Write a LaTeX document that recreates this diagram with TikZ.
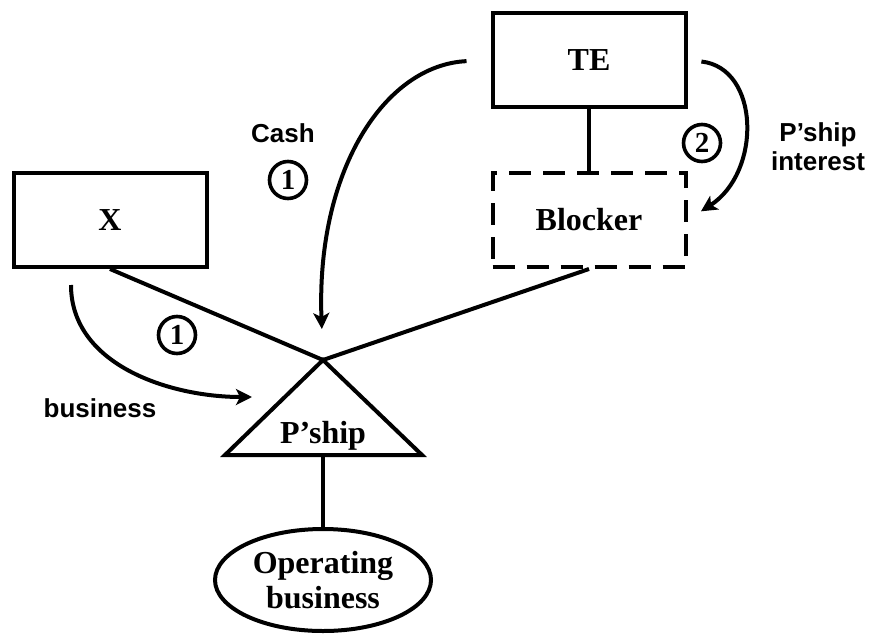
\documentclass[tikz,border=0pt]{standalone}
\usepackage{fontspec}
\setmainfont{Liberation Serif}
\newfontfamily\labelfont{Liberation Sans}
\usetikzlibrary{shapes,arrows.meta,positioning}

\begin{document}
\begin{tikzpicture}[x=0.5pt, y=-0.5pt,
    entity/.style={draw, line width=2pt, minimum width=96.5pt, minimum height=47pt, font=\fontsize{16}{19}\selectfont\bfseries},
    link/.style={line width=2pt},
    flow/.style={line width=2pt, -{Stealth[length=8pt, width=8pt, inset=2pt]}},
    step num/.style={draw, circle, line width=1.8pt, inner sep=0pt, minimum size=18.5pt, font=\fontsize{14.5}{14.5}\selectfont\bfseries},
    note/.style={align=center, font=\labelfont\bfseries\fontsize{13}{14.5}\selectfont}]
    \useasboundingbox (0,0) rectangle (870,636);

    \node[entity] (te) at (589,60) {TE};
    \node[entity, dashed, dash pattern=on 11pt off 6pt] (blocker) at (589,220) {Blocker};
    \node[entity] (x) at (110,220) {X};
    \node[draw, ellipse, line width=2pt, inner sep=0pt, minimum width=108pt, minimum height=51pt, align=center, font=\fontsize{16}{17.5}\selectfont\bfseries] (oper) at (323,580) {Operating\\business};

    % partnership triangle
    \coordinate (apex) at (323,360);
    \coordinate (pbase) at (323,455);
    \draw[link, line join=miter] (apex) -- (422,455) -- (225,455) -- cycle;
    \node[font=\fontsize{16}{19}\selectfont\bfseries] (pship) at (323,436) {P’ship};

    \draw[link] (te) -- (blocker);
    \draw[link] (x.south) -- (apex);
    \draw[link] (blocker.south) -- (apex);
    \draw[link] (pbase) -- (oper);

    % transfers
    \coordinate (bizstart) at (71,285);
    \coordinate (biztip) at (252,397);
    \draw[flow, shorten <=12pt, shorten >=15.5pt] (te.west) .. controls (385,65) and (316,170) .. (apex);
    \draw[flow, shorten <=7pt, shorten >=8pt] (te.east) .. controls (760,68) and (762,172) .. (blocker.east);
    \draw[flow] (bizstart) .. controls (71,365) and (170,397) .. (biztip);

    \node[note] (cash) at (283,133) {Cash};
    \node[step num] (one a) at (288,180) {1};
    \node[step num] (one b) at (177,335) {1};
    \node[note] (biz) at (100,408) {business};
    \node[step num] (two) at (702,143) {2};
    \node[note] (interest) at (818,147) {P’ship\\interest};
\end{tikzpicture}
\end{document}
